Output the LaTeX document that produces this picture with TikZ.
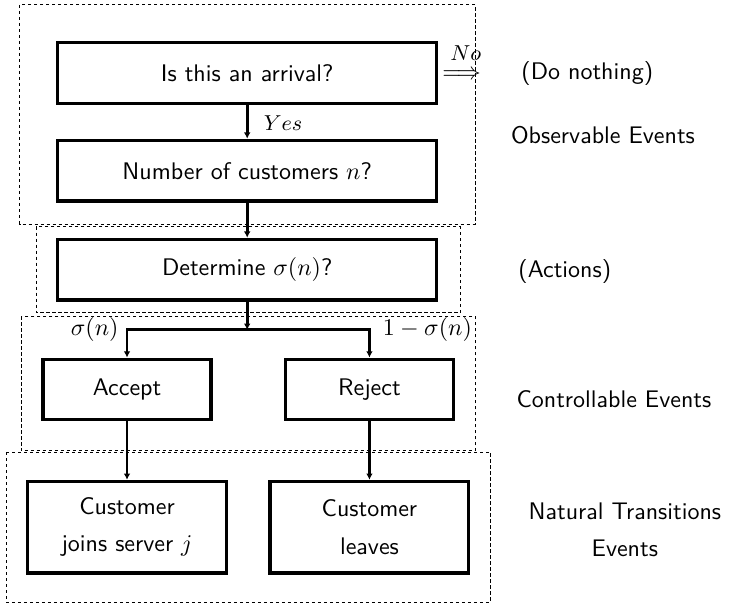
\documentclass[tikz,border=0pt]{standalone}
\usetikzlibrary{arrows.meta}
\renewcommand{\familydefault}{\sfdefault}
\begin{document}
\begin{tikzpicture}[every node/.style={font=\normalsize},
  box/.style={draw,line width=1.4pt,inner sep=0pt},
  wide/.style={box,minimum width=5.55cm,minimum height=0.89cm},
  small/.style={box,minimum width=2.46cm,minimum height=0.88cm},
  tall/.style={box,minimum width=2.91cm,minimum height=1.34cm,align=center},
  zone/.style={line width=0.4pt,dash pattern=on 1.4pt off 1.1pt},
  flow/.style={line width=1.2pt,-{Latex[length=2.6pt,width=2.8pt]}}]
 \useasboundingbox (0,0) rectangle (10.69,-8.86);
 % dashed groups
 \draw [zone] (0.29,-0.07) rectangle (6.96,-3.28);
 \draw [zone] (0.53,-3.32) rectangle (6.74,-4.58);
 \draw [zone] (0.31,-4.63) rectangle (6.96,-6.60);
 \draw [zone] (0.09,-6.62) rectangle (7.18,-8.82);
 % decision steps
 \node [wide] (arrival) at (3.62,-1.07) {Is this an arrival?};
 \node [wide] (count) at (3.62,-2.50) {Number of customers $n$?};
 \node [wide] (decide) at (3.62,-3.95) {Determine $\sigma(n)$?};
 \node [small] (accept) at (1.86,-5.70) {Accept};
 \node [small] (reject) at (5.41,-5.70) {Reject};
 \node [tall] (joins) at (1.86,-7.72) {Customer\\[3.5pt] joins server $j$};
 \node [tall] (leaves) at (5.41,-7.72) {Customer\\[3.5pt] leaves};
 \coordinate (fork) at (3.62,-4.83);
 \coordinate (forkl) at (1.86,-4.83);
 \coordinate (forkr) at (5.41,-4.83);
 % connectors
 \draw [flow] (arrival) -- (count);
 \node [anchor=west,font=\small] (yes) at (3.74,-1.80) {$Yes$};
 \draw [flow] (count) -- (decide);
 \draw [flow] (decide) -- (fork);
 \draw [flow] (fork) -- (forkl) -- (accept);
 \draw [flow] (fork) -- (forkr) -- (reject);
 \node [left] (p) at (forkl) {$\sigma(n)$};
 \node [anchor=west,inner sep=0pt] (q) at (5.60,-4.83) {$1-\sigma(n)$};
 \draw [flow] (accept) -- (joins);
 \draw [flow] (reject) -- (leaves);
 \node [inner sep=0pt] (no) at (6.76,-1.10) {$\Longrightarrow$};
 \node [font=\small] (nolabel) at (6.82,-0.78) {$No$};
 % side notes
 \node (nothing) at (8.60,-1.07) {(Do nothing)};
 \node (observe) at (8.83,-1.98) {Observable Events};
 \node (actions) at (8.27,-3.97) {(Actions)};
 \node (control) at (8.99,-5.84) {Controllable Events};
 \node [align=center] (natural) at (9.15,-7.76) {Natural Transitions\\[3.5pt] Events};
\end{tikzpicture}
\end{document}
